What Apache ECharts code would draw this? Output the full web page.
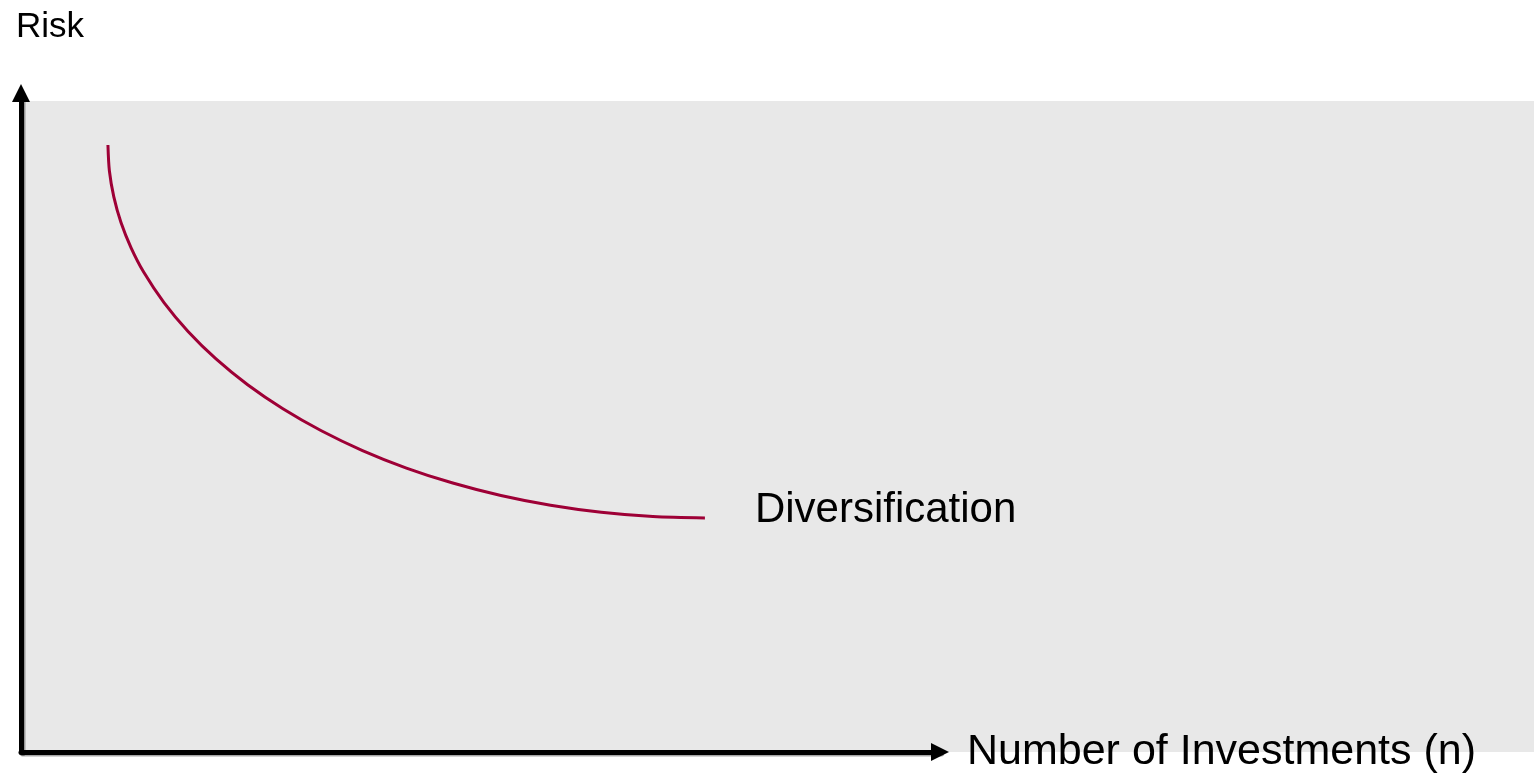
<!DOCTYPE html>
<html>
<head>
<meta charset="utf-8">
<title>Diversification</title>
<script src="https://cdn.jsdelivr.net/npm/echarts@6/dist/echarts.min.js"></script>
<style>
  html, body { margin: 0; padding: 0; background: #ffffff; }
  #chart { width: 1534px; height: 779px; }
</style>
</head>
<body>
<div id="chart"></div>
<script>
// Risk falls as the number of investments grows (arbitrary units)
const investments = [4.73, 4.81, 5.05, 5.44, 5.99, 6.69, 7.78, 9.09, 10.61, 12.33,
                     14.25, 16.34, 18.58, 20.97, 23.49, 26.11, 28.81, 31.57, 34.38, 37.21];
const risk =        [92.11, 88.16, 84.23, 80.34, 76.51, 72.75, 68.19, 63.81, 59.64, 55.73,
                     52.09, 48.75, 45.75, 43.09, 40.81, 38.92, 37.44, 36.37, 35.72, 35.51];
const curveLabel = 'Diversification';
const xAxisName = 'Number of Investments (n)';
const yAxisName = 'Risk';

const curve = investments.map((x, i) => [x, risk[i]]);

const FONT = "'Liberation Sans', Arial, sans-serif";
const triangle = 'path://M5,0 L10,10 L0,10 Z';
const axisLineStyle = {
  color: '#000000',
  width: 5,
  shadowColor: 'rgba(0,0,0,0.35)',
  shadowOffsetX: 1.5,
  shadowOffsetY: 1.5,
  shadowBlur: 0
};

const chart = echarts.init(document.getElementById('chart'), null, { renderer: 'canvas' });
chart.setOption({
  animation: false,
  backgroundColor: '#ffffff',
  title: {
    text: yAxisName,
    left: 16,
    top: 10,
    padding: 0,
    textStyle: { fontFamily: FONT, fontSize: 35, fontWeight: 'normal', color: '#000000' }
  },
  grid: [
    // shaded plotting panel
    { left: 24, top: 101, right: 0, bottom: 27, show: true, backgroundColor: '#e8e8e8', borderWidth: 0 },
    // axes carrying the curve
    { left: 21, top: 93, right: 594, bottom: 27 }
  ],
  xAxis: [
    { gridIndex: 0, type: 'value', show: false, min: 0, max: 1 },
    {
      gridIndex: 1,
      type: 'value',
      min: 0,
      max: 50,
      name: xAxisName,
      nameLocation: 'end',
      nameGap: 27,
      nameTextStyle: { fontFamily: FONT, fontSize: 43, color: '#000000', align: 'left', verticalAlign: 'middle' },
      axisLine: { show: true, symbol: ['none', triangle], symbolSize: [18, 18], lineStyle: axisLineStyle },
      axisTick: { show: false },
      axisLabel: { show: false },
      splitLine: { show: false }
    }
  ],
  yAxis: [
    { gridIndex: 0, type: 'value', show: false, min: 0, max: 1 },
    {
      gridIndex: 1,
      type: 'value',
      min: 0,
      max: 100,
      axisLine: { show: true, onZero: false, symbol: ['none', triangle], symbolSize: [18, 18], lineStyle: axisLineStyle },
      axisTick: { show: false },
      axisLabel: { show: false },
      splitLine: { show: false }
    }
  ],
  series: [
    {
      type: 'line',
      xAxisIndex: 1,
      yAxisIndex: 1,
      data: curve,
      smooth: 0.3,
      showSymbol: false,
      symbol: 'none',
      lineStyle: { color: '#9e0036', width: 3 },
      endLabel: {
        show: true,
        formatter: curveLabel,
        distance: 50,
        offset: [0, -8],
        fontFamily: FONT,
        fontSize: 42,
        color: '#000000'
      }
    }
  ]
});
</script>
</body>
</html>
